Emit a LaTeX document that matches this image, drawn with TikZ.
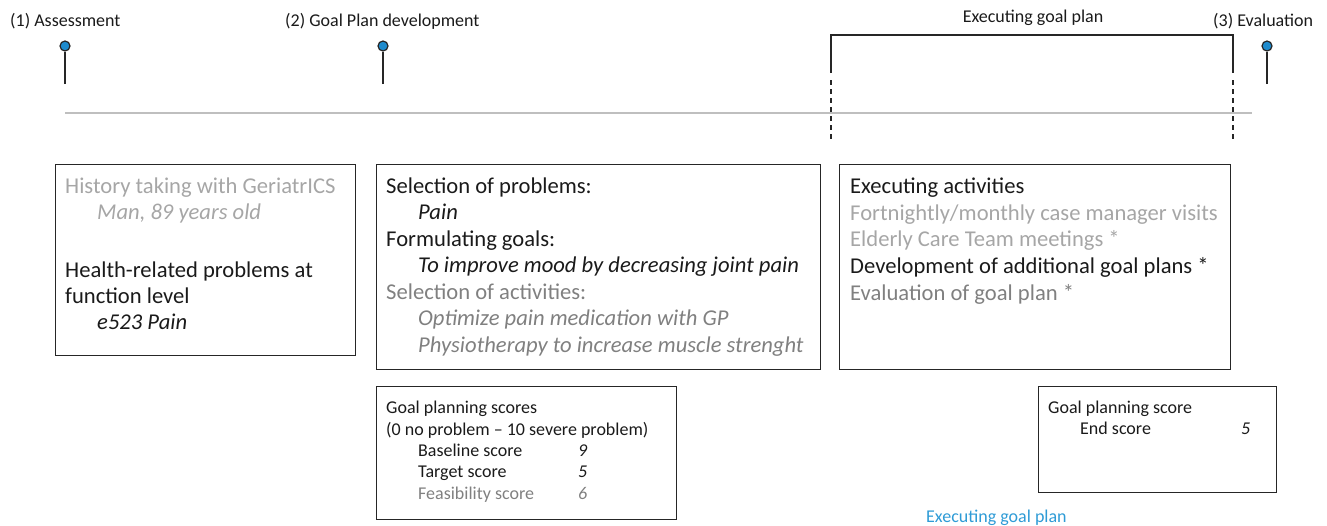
\documentclass[tikz,border=0pt]{standalone}
\usepackage{fontspec}
\setmainfont{Carlito}
\definecolor{pinblue}{HTML}{1E8BCD}
\definecolor{lgray}{HTML}{A6A6A6}
\definecolor{mgray}{HTML}{808080}
\definecolor{tline}{HTML}{BFBFBF}
\definecolor{txt}{HTML}{1A1A1A}
\definecolor{bluetxt}{HTML}{2E9BD6}
\begin{document}
\begin{tikzpicture}[x=1pt,y=-1pt,
  box/.style={draw=black!85,line width=1.4pt,anchor=north west,inner sep=0pt},
  big/.style={anchor=base west,inner sep=0pt,font=\fontsize{22.6}{26}\selectfont,text=txt},
  bigit/.style={big,font=\fontsize{22.6}{26}\selectfont\itshape},
  small/.style={anchor=base west,inner sep=0pt,font=\fontsize{18}{21}\selectfont,text=txt},
  smallit/.style={small,font=\fontsize{18}{21}\selectfont\itshape},
  pinhead/.style={circle,draw=black!85,fill=pinblue,line width=1.2pt,minimum size=10pt,inner sep=0pt},
  stem/.style={draw=black!85,line width=1.6pt},
  bracket/.style={draw=black!85,line width=1.6pt}]
\useasboundingbox (0,0) rectangle (1327,525);
% timeline
\coordinate (tl0) at (65,113);
\coordinate (tl1) at (1252,113);
\draw[tline,line width=1.6pt] (tl0) -- (tl1);
% pins
\coordinate (s1) at (65,84);
\coordinate (s2) at (383,84);
\coordinate (s3) at (1267,84);
\node[pinhead] (p1) at (65,46) {};
\node[pinhead] (p2) at (383,46) {};
\node[pinhead] (p3) at (1267,46) {};
\draw[stem] (s1) -- (p1);
\draw[stem] (s2) -- (p2);
\draw[stem] (s3) -- (p3);
% top labels
\node[small] (l1) at (10,26) {(1) Assessment};
\node[small] (l2) at (285,26) {(2) Goal Plan development};
\node[small] (l3) at (1213,26) {(3) Evaluation};
\node[small,anchor=base] (l4) at (1033,22) {Executing goal plan};
% bracket
\coordinate (bl0) at (831,73);
\coordinate (bl1) at (831,35);
\coordinate (br1) at (1233,35);
\coordinate (br0) at (1233,73);
\draw[bracket] (bl0) -- (bl1) -- (br1) -- (br0);
\coordinate (bld0) at (831,80);
\coordinate (bld1) at (831,140);
\coordinate (brd0) at (1233,80);
\coordinate (brd1) at (1233,140);
\draw[bracket,dash pattern=on 5pt off 4pt] (bld0) -- (bld1);
\draw[bracket,dash pattern=on 5pt off 4pt] (brd0) -- (brd1);
% box 1
\node[box,minimum width=300pt,minimum height=191pt] (b1) at (55,164) {};
\node[big,text=lgray] (t11) at (65,193) {History taking with GeriatrICS};
\node[bigit,text=lgray] (t12) at (97,219) {Man, 89 years old};
\node[big] (t13) at (65,277) {Health-related problems at};
\node[big] (t14) at (65,303) {function level};
\node[bigit] (t15) at (97,329) {e523 Pain};
% box 2
\node[box,minimum width=444pt,minimum height=205pt] (b2) at (376,164) {};
\node[big] (t21) at (386,193) {Selection of problems:};
\node[bigit] (t22) at (418,219) {Pain};
\node[big] (t23) at (386,246) {Formulating goals:};
\node[bigit] (t24) at (418,272) {To improve mood by decreasing joint pain};
\node[big,text=mgray] (t25) at (386,299) {Selection of activities:};
\node[bigit,text=mgray] (t26) at (418,325) {Optimize pain medication with GP};
\node[bigit,text=mgray] (t27) at (418,352) {Physiotherapy to increase muscle strenght};
% box 3
\node[box,minimum width=391pt,minimum height=205pt] (b3) at (839,164) {};
\node[big] (t31) at (850,193) {Executing activities};
\node[big,text=lgray] (t32) at (850,220) {Fortnightly/monthly case manager visits};
\node[big,text=lgray] (t33) at (850,246) {Elderly Care Team meetings *};
\node[big] (t34) at (850,273) {Development of additional goal plans *};
\node[big,text=mgray] (t35) at (850,300) {Evaluation of goal plan *};
% box 4
\node[box,minimum width=300pt,minimum height=133pt] (b4) at (376,386) {};
\node[small] (t41) at (386,413) {Goal planning scores};
\node[small] (t42) at (386,435) {(0 no problem -- 10 severe problem)};
\node[small] (t43) at (418,456) {Baseline score};
\node[smallit] (n43) at (578,456) {9};
\node[small] (t44) at (418,477) {Target score};
\node[smallit] (n44) at (578,477) {5};
\node[small,text=mgray] (t45) at (418,499) {Feasibility score};
\node[smallit,text=mgray] (n45) at (578,499) {6};
% box 5
\node[box,minimum width=238pt,minimum height=106pt] (b5) at (1038,386) {};
\node[small] (t51) at (1048,413) {Goal planning score};
\node[small] (t52) at (1080,434) {End score};
\node[smallit] (n52) at (1241,434) {5};
% bottom label
\node[small,text=bluetxt] (bl) at (926,522) {Executing goal plan};
\end{tikzpicture}
\end{document}
